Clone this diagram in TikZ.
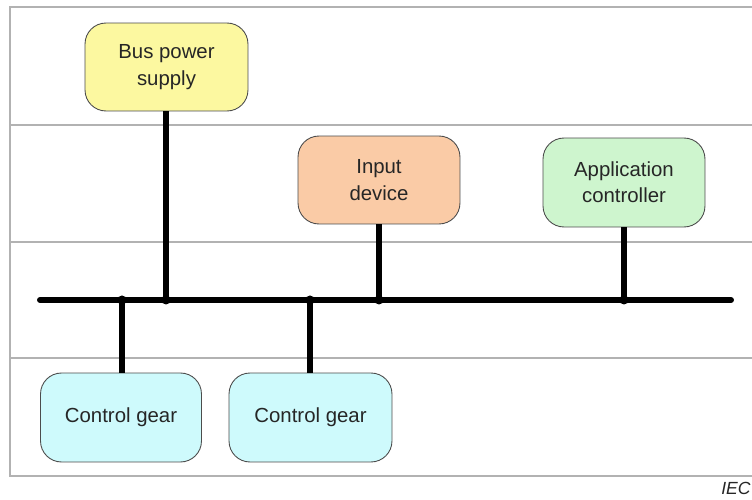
\documentclass[tikz,border=0pt]{standalone}
\usepackage{fontspec}
\setmainfont{Liberation Sans}
\usepackage{tikz}

\begin{document}
\begin{tikzpicture}[x=0.02cm,y=-0.02cm]
	\tikzstyle{every node}=[font=\fontsize{11.6}{15}\selectfont, text=black!85]
	\tikzstyle{unit}=[draw=black!70, line width=0.5pt, rounded corners=0.42cm, align=center, inner sep=0pt]
	\tikzstyle{frame}=[black!30, line width=0.9pt]
	\tikzstyle{wire}=[line width=3.4pt, line cap=round]
	\definecolor{psucol}{RGB}{252,248,160}
	\definecolor{inpcol}{RGB}{250,203,166}
	\definecolor{appcol}{RGB}{206,245,206}
	\definecolor{cgcol}{RGB}{206,250,252}

	\useasboundingbox (0,0) rectangle (752,500);
	\fill[white] (0,0) rectangle (752,500);

	%Rahmen und Ebenen
	\draw[frame] (752,7) -- (10,7) -- (10,476) -- (752,476);
	\draw[frame] (10,125) -- (752,125) (10,242) -- (752,242) (10,358) -- (752,358);

	%Teilnehmer
	\node[unit, fill=psucol, minimum width=3.26cm, minimum height=1.76cm] (psu) at (166.5,67) {Bus power\\supply};
	\node[unit, fill=inpcol, minimum width=3.24cm, minimum height=1.76cm] (inp) at (379,180) {Input\\device};
	\node[unit, fill=appcol, minimum width=3.24cm, minimum height=1.78cm] (app) at (624,182.5) {Application\\controller};
	\node[unit, fill=cgcol, minimum width=3.22cm, minimum height=1.78cm] (cg1) at (121,417.5) {Control gear};
	\node[unit, fill=cgcol, minimum width=3.26cm, minimum height=1.78cm] (cg2) at (310.5,417.5) {Control gear};

	%Bus
	\coordinate (busl) at (40,300);
	\coordinate (busr) at (731,300);
	\draw[wire] (busl) -- (busr);

	%Anschluesse
	\draw[wire, line cap=butt] (psu.south -| 166,0) -- (166,300) (inp.south -| 379,0) -- (379,300) (app.south -| 624,0) -- (624,300);
	\draw[wire, line cap=butt] (cg1.north -| 122,0) -- (122,300) (cg2.north -| 310,0) -- (310,300);
	\foreach \x in {122,166,310,379,624}
		\fill (\x,300) circle (4.5);

	\node[anchor=base east, inner sep=0pt, font=\fontsize{10}{12}\selectfont\itshape] (iec) at (751,495) {IEC};
\end{tikzpicture}
\end{document}
